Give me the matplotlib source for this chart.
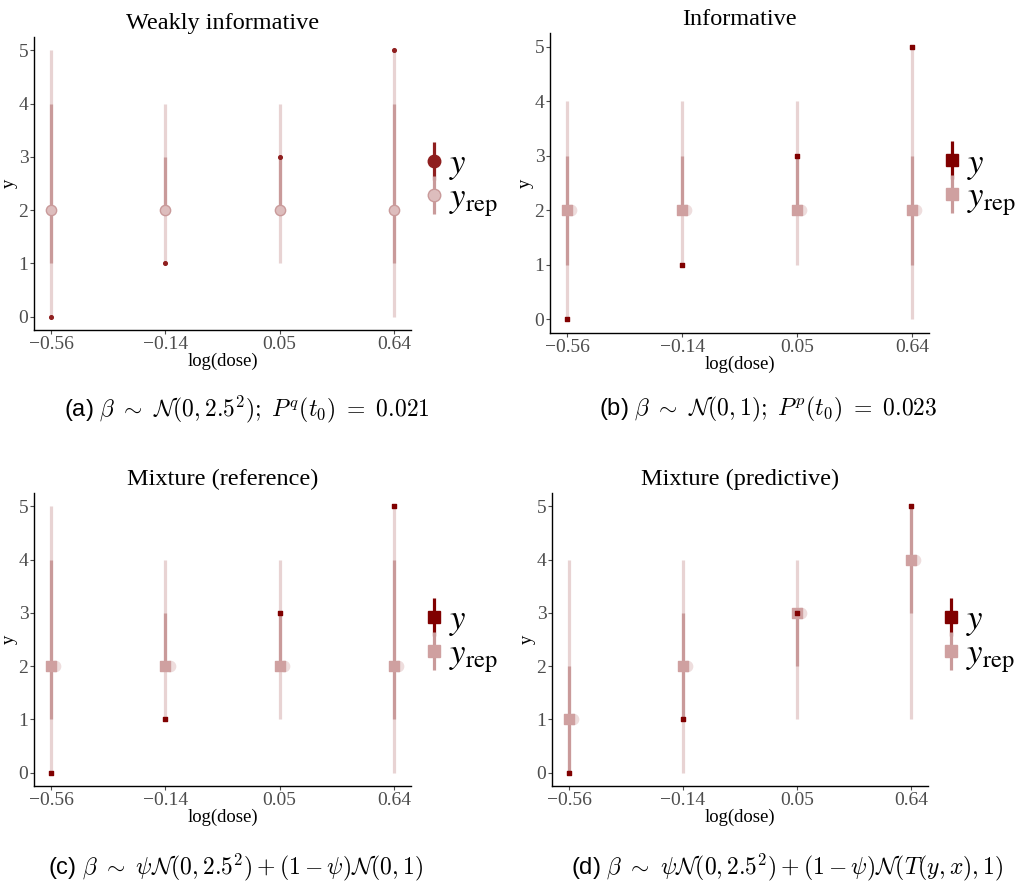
import numpy as np
import matplotlib.pyplot as plt
from matplotlib.lines import Line2D
from matplotlib.legend_handler import HandlerTuple
from matplotlib.transforms import ScaledTranslation

plt.rcParams['font.family'] = ['Liberation Serif', 'DejaVu Serif']
plt.rcParams['mathtext.fontset'] = 'stix'

# datos
dose_labels = ['\u22120.56', '\u22120.14', '0.05', '0.64']
y_obs = [0, 1, 3, 5]

titles = ['Weakly informative', 'Informative', 'Mixture (reference)', 'Mixture (predictive)']

med_a = [2, 2, 2, 2]
lo50_a = [1, 2, 2, 1]
hi50_a = [4, 3, 3, 4]
lo90_a = [0, 1, 1, 0]
hi90_a = [5, 4, 4, 5]

med_b = [2, 2, 2, 2]
lo50_b = [1, 2, 2, 1]
hi50_b = [3, 3, 3, 3]
lo90_b = [0, 1, 1, 0]
hi90_b = [4, 4, 4, 5]

med_c = [2, 2, 2, 2]
lo50_c = [1, 2, 2, 1]
hi50_c = [4, 3, 3, 4]
lo90_c = [0, 1, 1, 0]
hi90_c = [5, 4, 4, 5]

med_d = [1, 2, 3, 4]
lo50_d = [0, 1, 2, 3]
hi50_d = [2, 3, 3, 5]
lo90_d = [0, 0, 1, 1]
hi90_d = [4, 4, 4, 5]

captions = [
    r'(a) $\beta\ \sim\ \mathcal{N}(0, 2.5^2);\ P^q(t_0)\ =\ 0.021$',
    r'(b) $\beta\ \sim\ \mathcal{N}(0, 1);\ P^p(t_0)\ =\ 0.023$',
    r'(c) $\beta\ \sim\ \psi\mathcal{N}(0, 2.5^2) + (1-\psi)\mathcal{N}(0,1)$',
    r'(d) $\beta\ \sim\ \psi\mathcal{N}(0, 2.5^2) + (1-\psi)\mathcal{N}(T(y,x),1)$',
]

c_outer = '#E8D3D3'
c_inner = '#C99A9A'
c_point = '#DDBDBD'
c_dark = '#8F1F1F'

# posiciones de los ejes en pixeles (izq, der, arriba, abajo)
W, H = 1024, 885
boxes = [(34, 411, 37, 330), (550, 929, 33, 333), (34, 411, 493, 786), (552, 928, 493, 786)]
cap_pos = [(247, 409), (768, 409), (235, 867), (787, 867)]
panels = [
    (med_a, lo50_a, hi50_a, lo90_a, hi90_a),
    (med_b, lo50_b, hi50_b, lo90_b, hi90_b),
    (med_c, lo50_c, hi50_c, lo90_c, hi90_c),
    (med_d, lo50_d, hi50_d, lo90_d, hi90_d),
]

fig = plt.figure(figsize=(W / 100, H / 100), dpi=100)
x = np.arange(1, 5)

for i, (med, lo50, hi50, lo90, hi90) in enumerate(panels):
    l, r, t, b = boxes[i]
    ax = fig.add_axes([l / W, 1 - b / H, (r - l) / W, (b - t) / H])
    ax.vlines(x, lo90, hi90, color=c_outer, lw=2.3, zorder=1)
    ax.vlines(x, lo50, hi50, color=c_inner, lw=2.3, zorder=2)
    if i == 0:
        ax.scatter(x, med, s=55, c=c_point, edgecolors=c_inner, linewidths=1, zorder=3)
        ax.scatter(x, y_obs, s=7, c=c_dark, marker='o', zorder=4)
        h_y = (Line2D([], [], color=c_dark, marker='|', ms=28, mew=2.3, ls=''),
               Line2D([], [], color=c_dark, marker='o', ms=9, ls=''))
        h_rep = (Line2D([], [], color=c_inner, marker='|', ms=28, mew=2.3, ls=''),
                 Line2D([], [], mfc=c_point, mec=c_inner, marker='o', ms=9, ls=''))
    else:
        off = ax.transData + ScaledTranslation(3 / 72, 0, fig.dpi_scale_trans)
        ax.scatter(x, med, s=55, c='#EEDDDD', marker='o', transform=off, zorder=3)
        ax.scatter(x, med, s=45, c='#CFA0A0', marker='s', zorder=3.5)
        ax.scatter(x, y_obs, s=8, c='#800000', marker='s', zorder=4)
        h_y = (Line2D([], [], color='#800000', marker='|', ms=28, mew=2.3, ls=''),
               Line2D([], [], color='#800000', marker='s', ms=8, ls=''))
        h_rep = (Line2D([], [], color=c_inner, marker='|', ms=28, mew=2.3, ls=''),
                 Line2D([], [], color='#CFA0A0', marker='s', ms=8, ls=''))
    ax.set_xlim(0.85, 4.15)
    ax.set_ylim(-0.25, 5.25)
    ax.set_xticks(x)
    ax.set_xticklabels(dose_labels)
    ax.set_yticks(range(6))
    ax.tick_params(colors='#4D4D4D', labelsize=14, length=3, width=0.8, pad=1)
    for s in ['top', 'right']:
        ax.spines[s].set_visible(False)
    for s in ['left', 'bottom']:
        ax.spines[s].set_linewidth(1.0)
    ax.set_xlabel('log(dose)', fontsize=13.5, labelpad=0)
    ax.set_ylabel('y', fontsize=13.5)
    ax.yaxis.set_label_coords(-0.042, 0.5)
    ax.set_title(titles[i], fontsize=17.5, pad=6)
    ax.legend([h_y, h_rep], ['$y$', r'$y_{\mathrm{rep}}$'],
              handler_map={tuple: HandlerTuple(ndivide=1, pad=0)},
              loc='center left', bbox_to_anchor=(1.0, 0.5), frameon=False,
              fontsize=25, handlelength=0.5, handletextpad=0.2, labelspacing=0.0,
              borderaxespad=0.3, borderpad=0.1)
    cx, cy = cap_pos[i]
    fig.text(cx / W, 1 - cy / H, captions[i], ha='center', va='center', fontsize=17,
             family='Liberation Sans', math_fontfamily='cm')

plt.savefig('out.png', dpi=100)
